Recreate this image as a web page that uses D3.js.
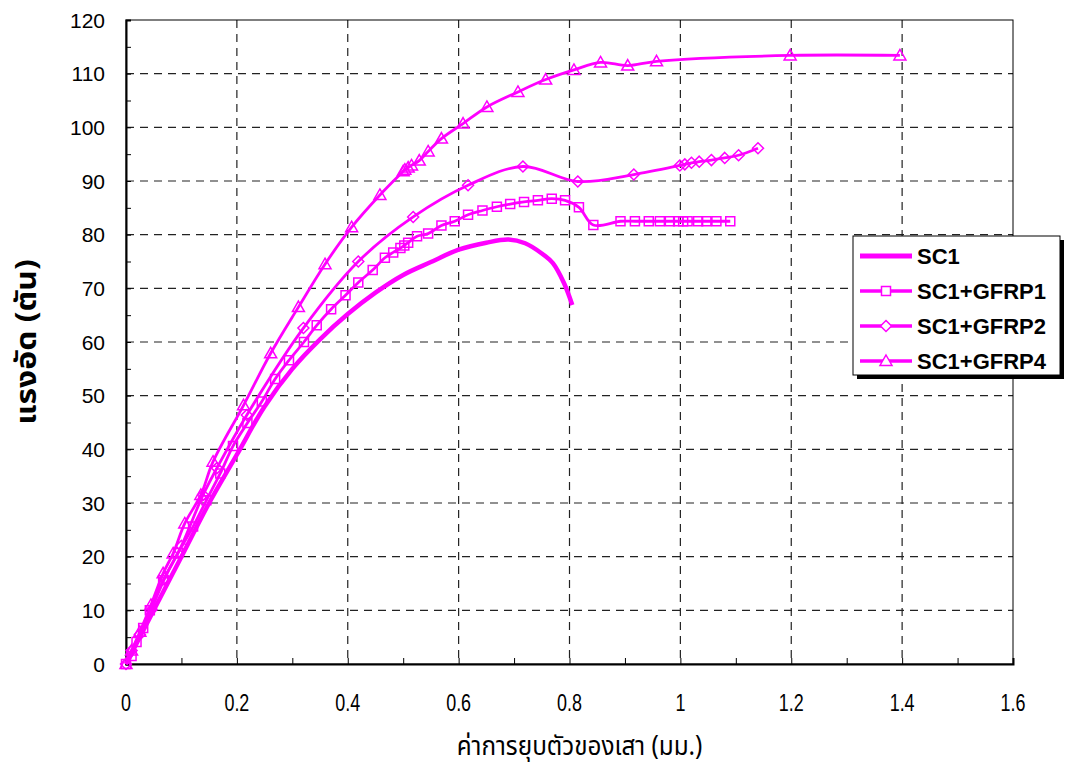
<!DOCTYPE html>
<html>
<head>
<meta charset="utf-8">
<script src="https://cdn.jsdelivr.net/npm/d3@7"></script>
<style>
  body { margin: 0; background: #fff; }
  #chart { width: 1065px; height: 769px; }
</style>
</head>
<body>
<div id="chart"></div>
<script>
// -- data --
var xTicks = [0, 0.2, 0.4, 0.6, 0.8, 1, 1.2, 1.4, 1.6];
var yTicks = [0, 10, 20, 30, 40, 50, 60, 70, 80, 90, 100, 110, 120];

var sc1X = [0, 0.02, 0.05, 0.1, 0.15, 0.2, 0.25, 0.3, 0.35, 0.4, 0.45, 0.5, 0.55, 0.6, 0.65, 0.69, 0.72, 0.75, 0.77, 0.79, 0.805];
var sc1Y = [0, 4, 10, 20, 30, 39, 48, 55, 60.5, 65.2, 69.2, 72.5, 74.9, 77.2, 78.5, 79.1, 78.4, 76.5, 74.7, 71, 66.9];

var g1X = [0, 0.01, 0.019, 0.031, 0.043, 0.067, 0.094, 0.121, 0.145, 0.17, 0.193, 0.219, 0.245, 0.269, 0.294, 0.321, 0.344, 0.37, 0.396, 0.419, 0.445, 0.467, 0.482, 0.495, 0.502, 0.509, 0.525, 0.545, 0.569, 0.593, 0.617, 0.643, 0.669, 0.693, 0.718, 0.743, 0.768, 0.792, 0.817, 0.843, 0.892, 0.918, 0.943, 0.963, 0.981, 0.996, 1.005, 1.013, 1.032, 1.047, 1.065, 1.09];
var g1Y = [0, 1.5, 4.1, 6.7, 10, 15.6, 20.7, 25.6, 30.5, 35.5, 40.6, 44.9, 48.9, 53.1, 56.6, 60, 63.1, 66.1, 68.7, 71.1, 73.4, 75.7, 76.7, 77.5, 78, 78.5, 79.7, 80.2, 81.7, 82.5, 83.7, 84.5, 85.2, 85.7, 86.1, 86.4, 86.7, 86.4, 85.1, 81.8, 82.5, 82.5, 82.5, 82.5, 82.5, 82.5, 82.5, 82.5, 82.5, 82.5, 82.5, 82.5];

var g2X = [0, 0.01, 0.025, 0.045, 0.07, 0.1, 0.139, 0.164, 0.218, 0.32, 0.419, 0.518, 0.617, 0.716, 0.815, 0.916, 0.999, 1.008, 1.02, 1.034, 1.056, 1.08, 1.105, 1.14];
var g2Y = [0, 2.5, 5.5, 10, 16, 22, 31.5, 36.5, 46.4, 62.6, 75, 83.3, 89.2, 92.7, 89.9, 91.2, 92.9, 93.1, 93.4, 93.6, 93.9, 94.3, 94.8, 96.1];

var g4X = [0, 0.01, 0.025, 0.045, 0.067, 0.085, 0.106, 0.135, 0.157, 0.212, 0.261, 0.311, 0.359, 0.407, 0.458, 0.5, 0.503, 0.509, 0.515, 0.529, 0.545, 0.569, 0.608, 0.651, 0.707, 0.757, 0.808, 0.856, 0.905, 0.957, 1.198, 1.396];
var g4Y = [0, 2.5, 6, 11, 16.9, 20.6, 26.2, 31.5, 37.7, 48.2, 57.9, 66.5, 74.5, 81.4, 87.4, 91.8, 92.1, 92.5, 92.9, 93.8, 95.5, 97.9, 100.7, 103.8, 106.6, 108.9, 110.7, 112.1, 111.5, 112.3, 113.4, 113.4];

var seriesNames = ["SC1", "SC1+GFRP1", "SC1+GFRP2", "SC1+GFRP4"];

var toPoints = function (xs, ys) {
  var r = [];
  for (var i = 0; i < xs.length; i++) { r.push({ x: xs[i], y: ys[i] }); }
  return r;
};

var series = [
  { name: seriesNames[0], points: toPoints(sc1X, sc1Y), marker: null, width: 4.5 },
  { name: seriesNames[1], points: toPoints(g1X, g1Y), marker: "square", width: 2.8 },
  { name: seriesNames[2], points: toPoints(g2X, g2Y), marker: "diamond", width: 2.8 },
  { name: seriesNames[3], points: toPoints(g4X, g4Y), marker: "triangle", width: 2.8 }
];

var MAGENTA = "#ff00ff";

// == d3.js boilerplate ==
var margin = { top: 20, right: 52, bottom: 105, left: 126 };
var width = 1065 - margin.left - margin.right,
    height = 769 - margin.top - margin.bottom;

var root = d3.select("#chart")
  .append("svg")
  .attr("width", 1065)
  .attr("height", 769);

var svg = root.append("g")
  .attr("transform", "translate(" + margin.left + "," + margin.top + ")");

// == scales ==
var x = d3.scaleLinear().domain([0, 1.6]).range([0, width]);
var y = d3.scaleLinear().domain([0, 120]).range([height, 0]);

// -- grid lines --
svg.append("g")
  .selectAll("line")
  .data(xTicks.slice(1, -1))
  .enter()
  .append("line")
  .attr("x1", function (d) { return x(d); })
  .attr("x2", function (d) { return x(d); })
  .attr("y1", 0)
  .attr("y2", height)
  .attr("stroke", "#222")
  .attr("stroke-width", 1.2)
  .attr("stroke-dasharray", "8,6");

svg.append("g")
  .selectAll("line")
  .data(yTicks.slice(1, -1))
  .enter()
  .append("line")
  .attr("x1", 0)
  .attr("x2", width)
  .attr("y1", function (d) { return y(d); })
  .attr("y2", function (d) { return y(d); })
  .attr("stroke", "#222")
  .attr("stroke-width", 1.2)
  .attr("stroke-dasharray", "8,6");

// frame
svg.append("rect")
  .attr("x", 0).attr("y", 0)
  .attr("width", width).attr("height", height)
  .attr("fill", "none")
  .attr("stroke", "#000")
  .attr("stroke-width", 1);

// -- axes (ticks inside) --
var xAxis = d3.axisBottom(x)
  .tickValues(d3.range(0, 1.61, 0.1))
  .tickSize(-6)
  .tickFormat("");
var gx = svg.append("g")
  .attr("transform", "translate(0," + height + ")")
  .call(xAxis);
gx.select(".domain").attr("stroke-width", 2);

var yAxis = d3.axisLeft(y)
  .tickValues(d3.range(0, 121, 5))
  .tickSize(-5)
  .tickFormat("");
var gy = svg.append("g").call(yAxis);
gy.select(".domain").attr("stroke-width", 2);

// tick labels (x ones are condensed like the original)
svg.append("g")
  .selectAll("text")
  .data(xTicks)
  .enter()
  .append("text")
  .attr("transform", function (d) { return "translate(" + x(d) + "," + (height + 47) + ") scale(0.78,1)"; })
  .attr("text-anchor", "middle")
  .style("font-family", "'Liberation Sans', Arial, sans-serif")
  .style("font-size", "23px")
  .text(function (d) { return d; });

svg.append("g")
  .selectAll("text")
  .data(yTicks)
  .enter()
  .append("text")
  .attr("x", -21)
  .attr("y", function (d) { return y(d) + 7.5; })
  .attr("text-anchor", "end")
  .style("font-family", "'Liberation Sans', Arial, sans-serif")
  .style("font-size", "21px")
  .text(function (d) { return d; });

// axis titles
root.append("text")
  .attr("transform", "translate(" + (margin.left + width / 2 + 10) + ",755) scale(0.9,1)")
  .attr("text-anchor", "middle")
  .style("font-family", "'Noto Sans Thai', 'Noto Sans', sans-serif")
  .style("font-size", "27px")
  .text("ค่าการยุบตัวของเสา (มม.)");

root.append("text")
  .attr("transform", "translate(36," + (margin.top + height / 2) + ") rotate(-90) scale(1.1,1)")
  .attr("text-anchor", "middle")
  .style("font-family", "'Noto Sans Thai', 'Noto Sans', sans-serif")
  .style("font-size", "29px")
  .style("font-weight", "bold")
  .text("แรงอัด (ตัน)");

// == lines ==
var line = d3.line()
  .x(function (d) { return x(d.x); })
  .y(function (d) { return y(d.y); })
  .curve(d3.curveCatmullRom.alpha(0.5));

svg.append("g")
  .selectAll("path")
  .data(series)
  .enter()
  .append("path")
  .attr("d", function (d) { return line(d.points); })
  .attr("fill", "none")
  .attr("stroke", MAGENTA)
  .attr("stroke-width", function (d) { return d.width; })
  .attr("stroke-linejoin", "round");

// markers
var markerPath = function (kind) {
  if (kind === "square") return "M-4.5,-4.5H4.5V4.5H-4.5Z";
  if (kind === "diamond") return "M0,-5.5L5.5,0L0,5.5L-5.5,0Z";
  if (kind === "triangle") return "M0,-6L6,4.5H-6Z";
  return "";
};

series.forEach(function (s) {
  if (!s.marker) return;
  svg.append("g")
    .selectAll("path")
    .data(s.points)
    .enter()
    .append("path")
    .attr("transform", function (d) { return "translate(" + x(d.x) + "," + y(d.y) + ")"; })
    .attr("d", markerPath(s.marker))
    .attr("fill", "none")
    .attr("stroke", MAGENTA)
    .attr("stroke-width", 1.5);
});

// == legend ==
var lg = root.append("g").attr("transform", "translate(853,236)");
lg.append("rect")
  .attr("x", 4).attr("y", 4)
  .attr("width", 207).attr("height", 139)
  .attr("fill", "#000");
lg.append("rect")
  .attr("x", 0).attr("y", 0)
  .attr("width", 207).attr("height", 139)
  .attr("fill", "#fff")
  .attr("stroke", "#000")
  .attr("stroke-width", 1);

var items = lg.selectAll(".item")
  .data(series)
  .enter()
  .append("g")
  .attr("transform", function (d, i) { return "translate(0," + (20 + i * 35) + ")"; });

items.append("line")
  .attr("x1", 7).attr("x2", 59)
  .attr("y1", 0).attr("y2", 0)
  .attr("stroke", MAGENTA)
  .attr("stroke-width", function (d) { return d.width + 0.5; });

items.append("path")
  .attr("transform", "translate(33,0)")
  .attr("d", function (d) { return markerPath(d.marker); })
  .attr("fill", "#fff")
  .attr("stroke", MAGENTA)
  .attr("stroke-width", 1.5);

items.append("text")
  .attr("x", 64)
  .attr("y", 8)
  .style("font-family", "'Liberation Sans', Arial, sans-serif")
  .style("font-size", "22px")
  .style("font-weight", "bold")
  .text(function (d) { return d.name; });
</script>
</body>
</html>
